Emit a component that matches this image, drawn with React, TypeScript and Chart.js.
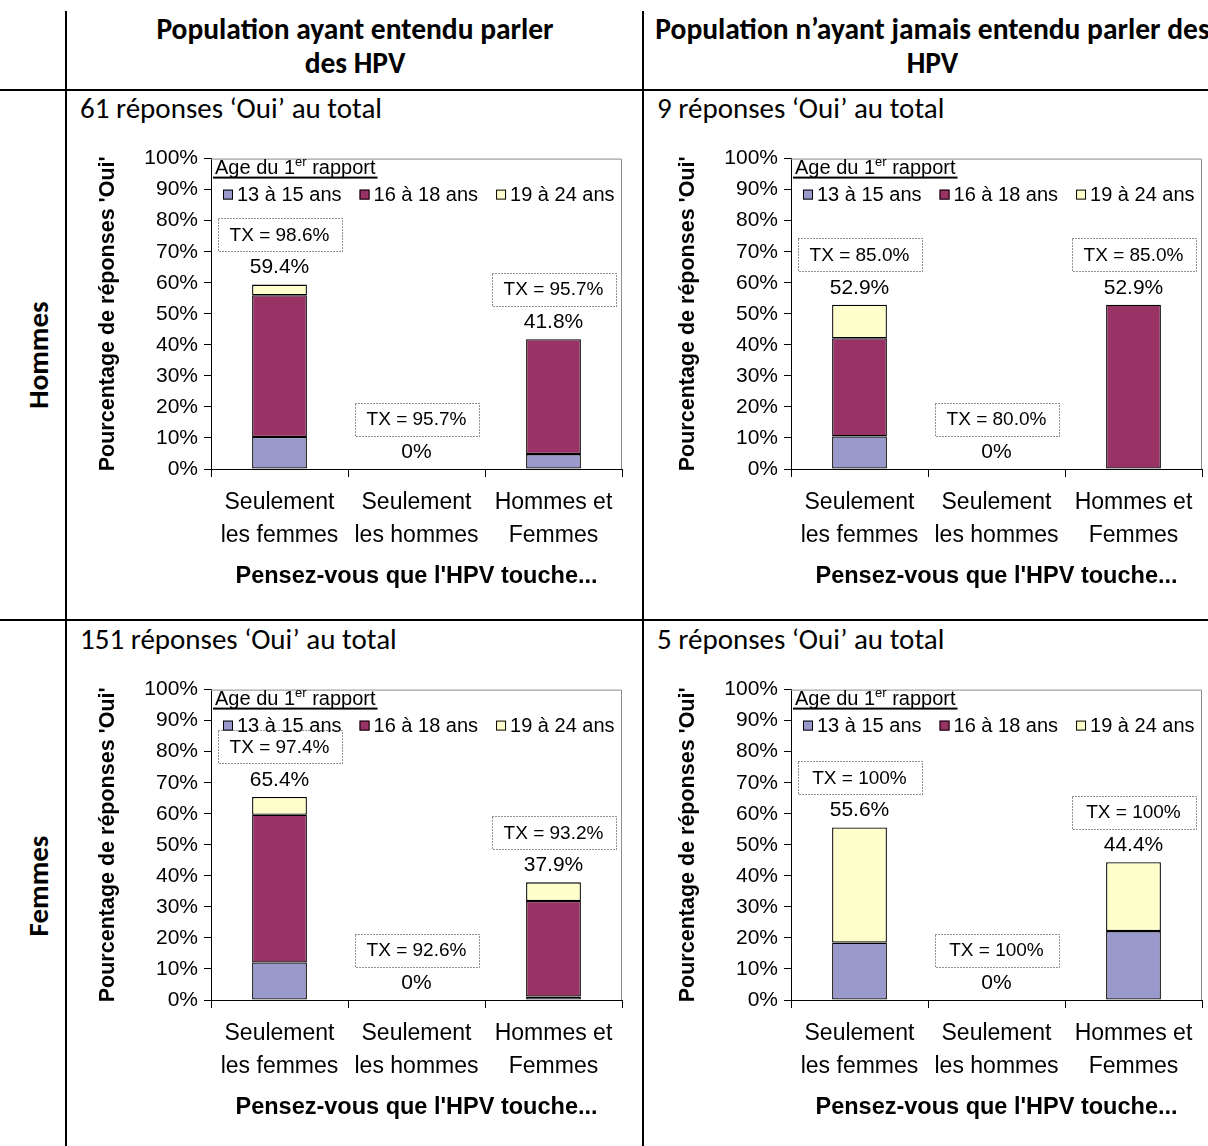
import React, { useEffect, useRef } from 'react';
import { Chart, registerables } from 'chart.js';

Chart.register(...registerables);

const ARIAL = '"Liberation Sans", Arial, Helvetica, sans-serif';
const CALIBRI = 'Calibri, Carlito, Lato, sans-serif';

// ---- data ----
const categories = [
  ['Seulement', 'les femmes'],
  ['Seulement', 'les hommes'],
  ['Hommes et', 'Femmes'],
];
const seriesNames = ['13 à 15 ans', '16 à 18 ans', '19 à 24 ans'];
const seriesColors = ['#9999CC', '#993366', '#FFFFCC'];
const yTickValues = [0, 10, 20, 30, 40, 50, 60, 70, 80, 90, 100];

// Hommes – population ayant entendu parler des HPV
const hEntendu13 = [10.3, 0, 4.8];
const hEntendu16 = [45.7, 0, 37.0];
const hEntendu19 = [3.4, 0, 0];
const hEntenduTX = ['98.6%', '95.7%', '95.7%'];

// Hommes – population n'ayant jamais entendu parler des HPV
const hJamais13 = [10.5, 0, 0];
const hJamais16 = [31.6, 0, 52.9];
const hJamais19 = [10.8, 0, 0];
const hJamaisTX = ['85.0%', '80.0%', '85.0%'];

// Femmes – population ayant entendu parler des HPV
const fEntendu13 = [12.1, 0, 1.1];
const fEntendu16 = [47.6, 0, 30.8];
const fEntendu19 = [5.7, 0, 6.0];
const fEntenduTX = ['97.4%', '92.6%', '93.2%'];

// Femmes – population n'ayant jamais entendu parler des HPV
const fJamais13 = [18.5, 0, 22.2];
const fJamais16 = [0, 0, 0];
const fJamais19 = [37.1, 0, 22.2];
const fJamaisTX = ['100%', '100%', '100%'];

const subtitles = [
  '61 réponses ‘Oui’ au total',
  '9 réponses ‘Oui’ au total',
  '151 réponses ‘Oui’ au total',
  '5 réponses ‘Oui’ au total',
];
const colHeaders = [
  ['Population ayant entendu parler', 'des HPV'],
  ['Population n’ayant jamais entendu parler des', 'HPV'],
];
const rowHeaders = ['Hommes', 'Femmes'];

const CW = 560;
const CH = 470;

function makeOverlay(tx: string[]) {
  return {
    id: 'hpvOverlay',
    beforeDatasetsDraw(chart: any) {
      const { ctx, chartArea: a } = chart;
      ctx.save();
      ctx.strokeStyle = '#8c8c8c';
      ctx.lineWidth = 1;
      ctx.beginPath();
      ctx.moveTo(a.left, a.top + 0.5);
      ctx.lineTo(a.right - 0.5, a.top + 0.5);
      ctx.lineTo(a.right - 0.5, a.bottom);
      ctx.stroke();
      ctx.restore();
    },
    afterDatasetsDraw(chart: any) {
      const { ctx, chartArea: a, scales } = chart;
      const xs = scales.x;
      const ys = scales.y;
      ctx.save();
      // legend title
      ctx.fillStyle = '#000';
      ctx.textAlign = 'left';
      ctx.textBaseline = 'alphabetic';
      const ty = a.top + 15;
      let x = a.left + 4;
      ctx.font = `20px ${ARIAL}`;
      ctx.fillText('Age du 1', x, ty);
      x += ctx.measureText('Age du 1').width;
      ctx.font = `13px ${ARIAL}`;
      ctx.fillText('er', x, ty - 8);
      x += ctx.measureText('er').width;
      ctx.font = `20px ${ARIAL}`;
      ctx.fillText(' rapport', x, ty);
      x += ctx.measureText(' rapport').width;
      ctx.fillRect(a.left + 2, ty + 3, x - a.left, 2);
      // legend items
      const cy = a.top + 36;
      ctx.font = `20px ${ARIAL}`;
      ctx.textBaseline = 'middle';
      let ix = a.left + 12;
      chart.data.datasets.forEach((ds: any) => {
        ctx.fillStyle = ds.backgroundColor;
        ctx.fillRect(ix, cy - 5, 10, 10);
        ctx.strokeStyle = '#000';
        ctx.lineWidth = 1;
        ctx.strokeRect(ix + 0.5, cy - 4.5, 9, 9);
        ctx.fillStyle = '#000';
        ctx.fillText(ds.label, ix + 14, cy + 1);
        ix += 14 + ctx.measureText(ds.label).width + 18;
      });
      // totals and TX boxes
      ctx.textAlign = 'center';
      ctx.textBaseline = 'middle';
      categories.forEach((_, i) => {
        const total = chart.data.datasets.reduce(
          (s: number, ds: any) => s + (Number(ds.data[i]) || 0),
          0
        );
        const cx = xs.getPixelForValue(i);
        const top = ys.getPixelForValue(total);
        ctx.fillStyle = '#000';
        ctx.font = `21px ${ARIAL}`;
        ctx.fillText(total === 0 ? '0%' : total.toFixed(1) + '%', cx, top - 17);
        const by = top - 50;
        ctx.setLineDash([1, 2]);
        ctx.strokeStyle = '#222';
        ctx.lineWidth = 1;
        ctx.strokeRect(Math.round(cx - 62) + 0.5, Math.round(by - 16.5) + 0.5, 124, 33);
        ctx.setLineDash([]);
        ctx.font = `19px ${ARIAL}`;
        ctx.fillText('TX = ' + tx[i], cx, by + 1);
      });
      ctx.restore();
    },
  };
}

function Panel(props: { left: number; top: number; d13: number[]; d16: number[]; d19: number[]; tx: string[] }) {
  const ref = useRef<HTMLCanvasElement>(null);
  useEffect(() => {
    const series = [props.d13, props.d16, props.d19];
    const chart = new Chart(ref.current as HTMLCanvasElement, {
      type: 'bar',
      data: {
        labels: categories as any,
        datasets: series.map((arr, k) => ({
          label: seriesNames[k],
          data: arr.map((v) => (v === 0 ? null : v)),
          backgroundColor: seriesColors[k],
          borderColor: '#000',
          borderWidth: 1.3,
          borderSkipped: false,
          categoryPercentage: 1,
          barPercentage: 0.4,
        })),
      },
      options: {
        responsive: false,
        maintainAspectRatio: false,
        animation: false,
        layout: { padding: { top: 14, right: 18, left: 0, bottom: 0 } },
        plugins: { legend: { display: false }, tooltip: { enabled: false } },
        scales: {
          x: {
            stacked: true,
            grid: { display: true, drawOnChartArea: false, drawTicks: true, tickLength: 8, color: '#000', offset: true },
            border: { color: '#000', width: 1 },
            ticks: {
              color: '#000',
              font: { family: ARIAL, size: 23, lineHeight: 1.4 },
              padding: 10,
              maxRotation: 0,
              autoSkip: false,
            },
            title: {
              display: true,
              text: "Pensez-vous que l'HPV touche...",
              color: '#000',
              font: { family: ARIAL, size: 23.5, weight: 'bold' },
              padding: { top: 0, bottom: 19 },
            },
            afterFit: (s: any) => {
              s.height = 141;
            },
          },
          y: {
            stacked: true,
            min: 0,
            max: 100,
            afterBuildTicks: (s: any) => {
              s.ticks = yTickValues.map((v) => ({ value: v }));
            },
            ticks: {
              color: '#000',
              font: { family: ARIAL, size: 21 },
              padding: 6,
              callback: (v: any) => v + '%',
            },
            grid: { drawOnChartArea: false, tickLength: 7, color: '#000' },
            border: { color: '#000', width: 1 },
            title: {
              display: true,
              text: "Pourcentage de réponses 'Oui'",
              color: '#000',
              font: { family: ARIAL, size: 21.5, weight: 'bold' },
              padding: { top: 15, bottom: 0 },
            },
            afterFit: (s: any) => {
              s.width = 131;
            },
          },
        },
      } as any,
      plugins: [makeOverlay(props.tx)],
    });
    return () => chart.destroy();
  }, []);
  return (
    <canvas
      ref={ref}
      width={CW}
      height={CH}
      style={{ position: 'absolute', left: props.left, top: props.top, width: CW, height: CH }}
    />
  );
}

const ROW = 531;

export default function App() {
  const hdr: React.CSSProperties = {
    position: 'absolute',
    top: 12,
    textAlign: 'center',
    fontFamily: CALIBRI,
    fontWeight: 'bold',
    fontSize: 29.5,
    lineHeight: '34px',
    whiteSpace: 'nowrap',
    color: '#000',
  };
  const sub: React.CSSProperties = {
    position: 'absolute',
    fontFamily: CALIBRI,
    fontSize: 29,
    lineHeight: '32px',
    whiteSpace: 'nowrap',
    color: '#000',
  };
  const rowLbl: React.CSSProperties = {
    position: 'absolute',
    left: 38,
    fontFamily: CALIBRI,
    fontWeight: 'bold',
    fontSize: 29,
    lineHeight: '30px',
    whiteSpace: 'nowrap',
    transform: 'translate(-50%, -50%) rotate(-90deg)',
    color: '#000',
  };
  return (
    <div
      style={{
        position: 'absolute',
        left: 0,
        top: 0,
        width: 1208,
        height: 1146,
        overflow: 'hidden',
        background: '#fff',
      }}
    >
      {/* grid lines of the table */}
      <div style={{ position: 'absolute', left: 65, top: 11, width: 2, height: 1140, background: '#000' }} />
      <div style={{ position: 'absolute', left: 642, top: 11, width: 2, height: 1140, background: '#000' }} />
      <div style={{ position: 'absolute', left: 0, top: 89, width: 1208, height: 2, background: '#000' }} />
      <div style={{ position: 'absolute', left: 0, top: 89 + 530, width: 1208, height: 2, background: '#000' }} />

      {/* column headers */}
      <div style={{ ...hdr, left: 67, width: 576 }}>
        {colHeaders[0][0]}
        <br />
        {colHeaders[0][1]}
      </div>
      <div style={{ ...hdr, left: 644, width: 577 }}>
        {colHeaders[1][0]}
        <br />
        {colHeaders[1][1]}
      </div>

      {/* row headers */}
      <div style={{ ...rowLbl, top: 355 }}>{rowHeaders[0]}</div>
      <div style={{ ...rowLbl, top: 355 + ROW }}>{rowHeaders[1]}</div>

      {/* subtitles */}
      <div style={{ ...sub, left: 80, top: 92 }}>{subtitles[0]}</div>
      <div style={{ ...sub, left: 657, top: 92 }}>{subtitles[1]}</div>
      <div style={{ ...sub, left: 80, top: 92 + ROW }}>{subtitles[2]}</div>
      <div style={{ ...sub, left: 657, top: 92 + ROW }}>{subtitles[3]}</div>

      <Panel left={80} top={140} d13={hEntendu13} d16={hEntendu16} d19={hEntendu19} tx={hEntenduTX} />
      <Panel left={660} top={140} d13={hJamais13} d16={hJamais16} d19={hJamais19} tx={hJamaisTX} />
      <Panel left={80} top={140 + ROW} d13={fEntendu13} d16={fEntendu16} d19={fEntendu19} tx={fEntenduTX} />
      <Panel left={660} top={140 + ROW} d13={fJamais13} d16={fJamais16} d19={fJamais19} tx={fJamaisTX} />
    </div>
  );
}
